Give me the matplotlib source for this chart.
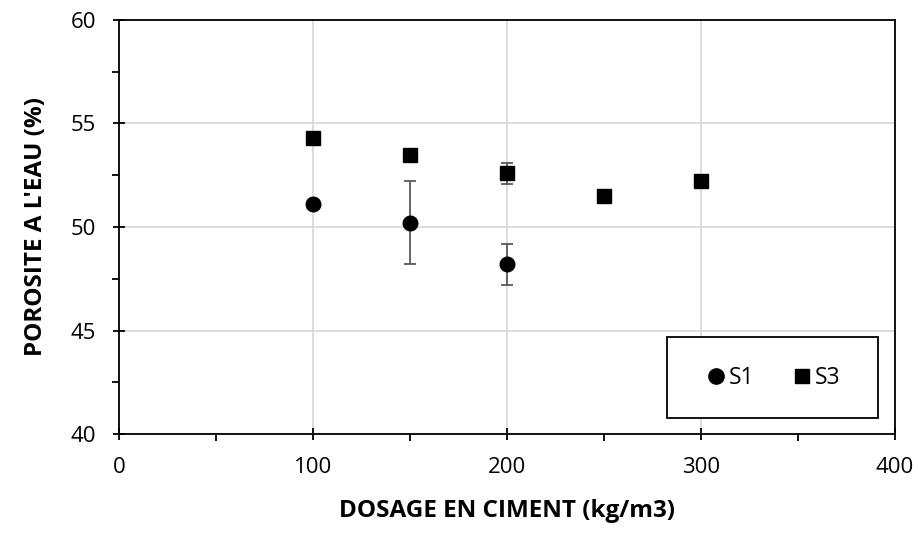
import matplotlib

matplotlib.use("Agg")
import matplotlib.pyplot as plt
from matplotlib.lines import Line2D
from matplotlib.patches import Rectangle
from matplotlib.ticker import MultipleLocator

plt.rcParams["font.family"] = ["Open Sans", "DejaVu Sans"]

# Data
dosage_s1 = [100, 150, 200]
porosity_s1 = [51.1, 50.2, 48.2]
err_s1 = [0.0, 2.0, 1.0]

dosage_s3 = [100, 150, 200, 250, 300]
porosity_s3 = [54.3, 53.5, 52.6, 51.5, 52.2]
err_s3 = [0.0, 0.0, 0.5, 0.0, 0.3]

fig = plt.figure(figsize=(9.18, 5.46), dpi=100)
ax = fig.add_axes([0.1296, 0.2051, 0.8453, 0.7583])

err_kw = dict(ecolor="#595959", elinewidth=1.3, capsize=4.5, capthick=1.3, linestyle="none")
ax.errorbar(dosage_s1, porosity_s1, yerr=err_s1, fmt="o", color="black",
            markersize=10.5, zorder=3, **err_kw)
ax.errorbar(dosage_s3, porosity_s3, yerr=err_s3, fmt="s", color="black",
            markersize=10.5, zorder=3, **err_kw)

ax.set_xlim(0, 400)
ax.set_ylim(40, 60)
ax.xaxis.set_major_locator(MultipleLocator(100))
ax.xaxis.set_minor_locator(MultipleLocator(50))
ax.yaxis.set_major_locator(MultipleLocator(5))
ax.yaxis.set_minor_locator(MultipleLocator(2.5))

ax.grid(which="major", color="#d9d9d9", linewidth=1.3, zorder=0)
ax.set_axisbelow(True)
for spine in ax.spines.values():
    spine.set_linewidth(1.3)
    spine.set_color("black")

ax.tick_params(which="major", direction="inout", length=9, width=1.3, labelsize=16, pad=12)
ax.tick_params(which="minor", direction="out", length=5, width=1.3)
ax.tick_params(axis="x", which="both", top=False)
ax.tick_params(axis="y", which="both", right=False)

ax.set_xlabel("DOSAGE EN CIMENT (kg/m3)", fontsize=17.5, fontweight="bold", labelpad=15)
ax.set_ylabel("POROSITE A L'EAU (%)", fontsize=17.5, fontweight="bold", labelpad=16)

# Legend box as in the reference
ax.add_patch(Rectangle((0.706, 0.0386), 0.272, 0.196, transform=ax.transAxes,
                       facecolor="white", edgecolor="black", linewidth=1.3, zorder=4))
handles = [
    Line2D([], [], marker="o", color="black", linestyle="none", markersize=11),
    Line2D([], [], marker="s", color="black", linestyle="none", markersize=10),
]
leg = ax.legend(handles, ["S1", "S3"], loc="center", bbox_to_anchor=(0.842, 0.136), ncol=2,
                frameon=False, fontsize=16.5, handletextpad=0.05, columnspacing=1.6,
                handlelength=1.0)
leg.set_zorder(5)

fig.savefig("out.png", dpi=100)
